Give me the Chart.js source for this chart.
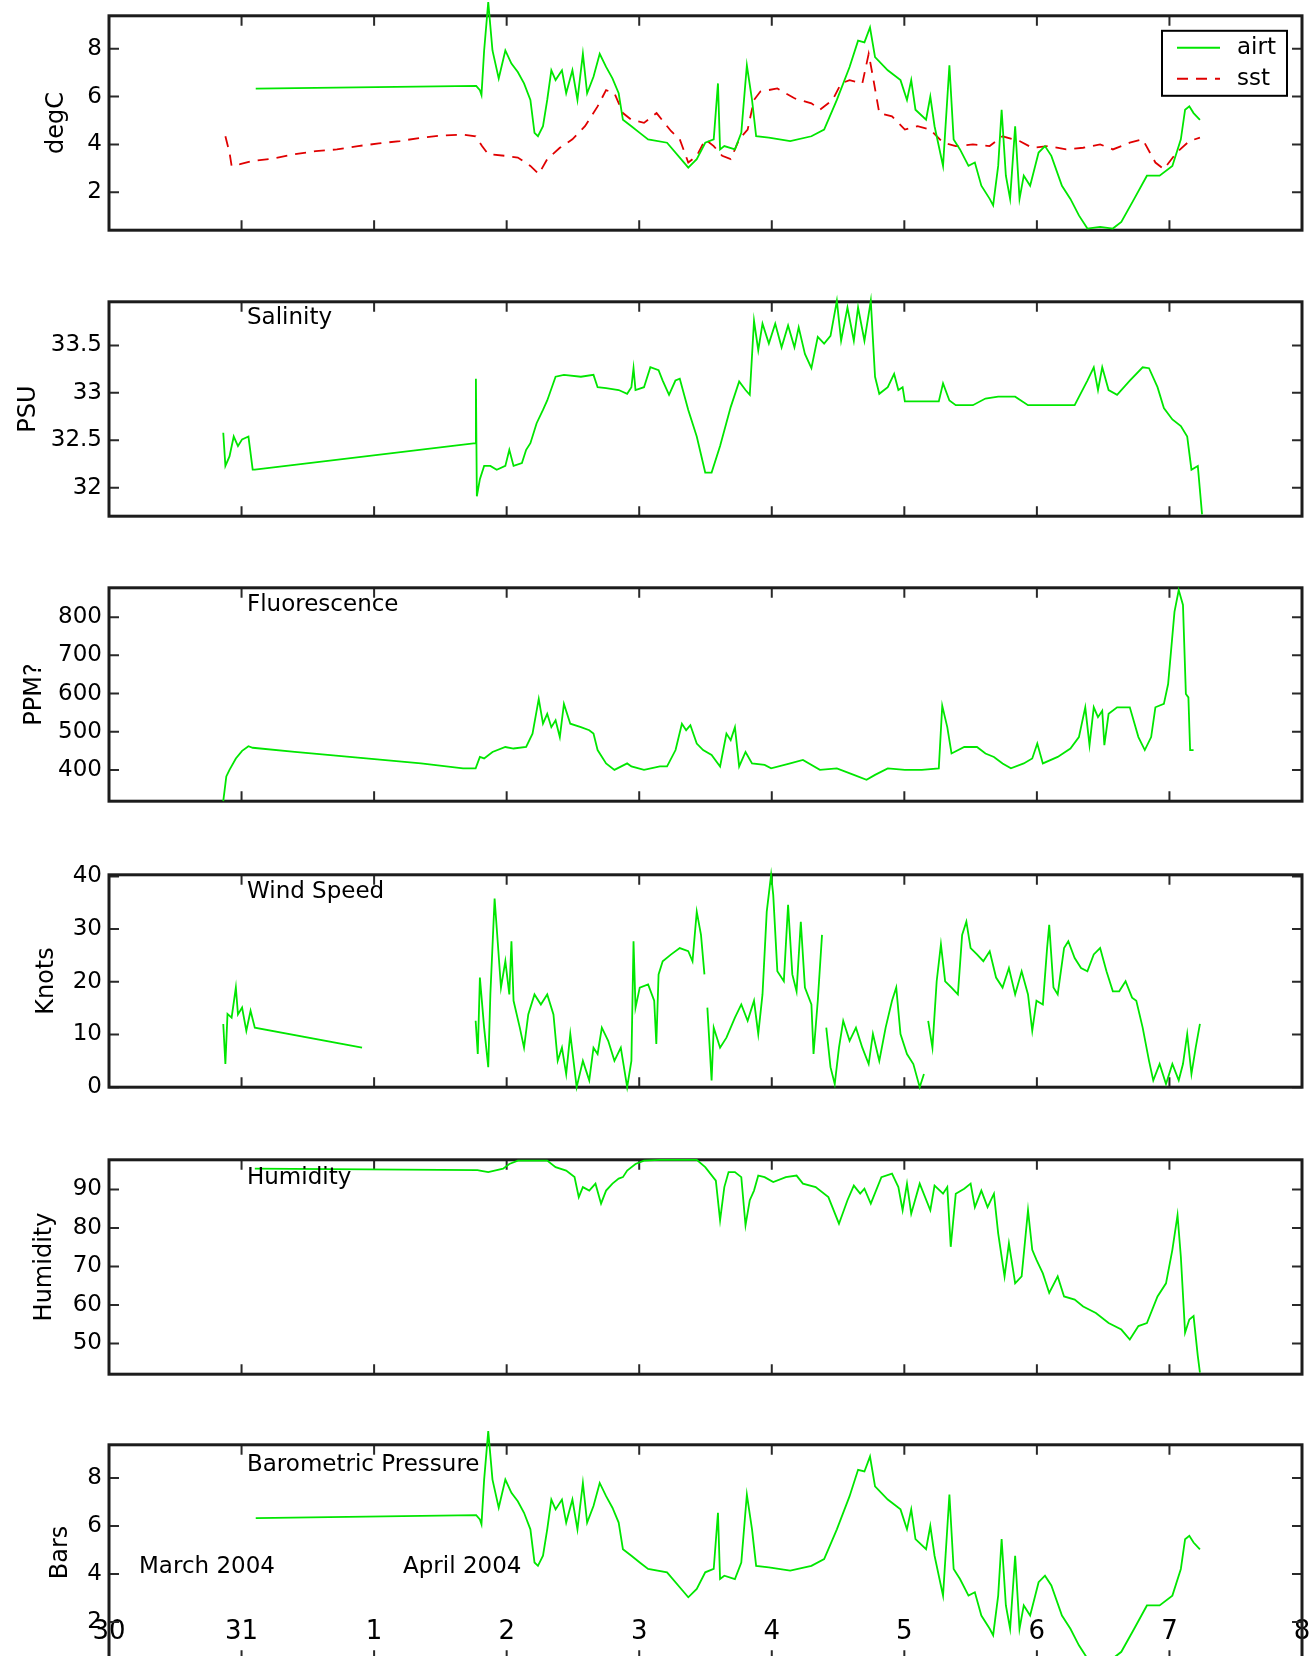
<!DOCTYPE html>
<html>
<head>
<meta charset="utf-8">
<title>Ship meteorological and surface data, 30 March – 8 April 2004</title>
<script src="https://cdn.jsdelivr.net/npm/chart.js@4.4.1/dist/chart.umd.min.js"></script>
<style>
  html, body { margin: 0; padding: 0; background: #fff; width: 1316px; height: 1656px; overflow: hidden; }
  .panel { position: absolute; left: 0; width: 1316px; }
  .note { position: absolute; font-family: "DejaVu Sans", sans-serif; font-size: 23px; line-height: 1; color: #000; white-space: nowrap; }
</style>
</head>
<body>
<script>
// ---- time axis: days counted from 30 March 2004, 00:00 ----
const dayTicks  = [0, 1, 2, 3, 4, 5, 6, 7, 8, 9];
const dayLabels = ['30', '31', '1', '2', '3', '4', '5', '6', '7', '8'];
const monthLabels = ['March 2004', 'April 2004'];

// ---- air temperature (degC) ----
const airtDays = [1.107, 2.77, 2.798, 2.81, 2.83, 2.861, 2.893, 2.94, 2.99, 3.036, 3.084, 3.131, 3.179, 3.21, 3.236, 3.274, 3.306, 3.337, 3.369, 3.417, 3.449, 3.496, 3.534, 3.575, 3.607, 3.655, 3.702, 3.75, 3.798, 3.845, 3.877, 3.941, 4.004, 4.067, 4.21, 4.338, 4.37, 4.434, 4.498, 4.562, 4.594, 4.61, 4.642, 4.722, 4.77, 4.812, 4.851, 4.882, 4.978, 5.139, 5.299, 5.395, 5.491, 5.587, 5.651, 5.699, 5.741, 5.779, 5.875, 5.971, 6.02, 6.052, 6.084, 6.164, 6.196, 6.228, 6.292, 6.34, 6.372, 6.42, 6.484, 6.532, 6.581, 6.644, 6.67, 6.708, 6.734, 6.766, 6.798, 6.836, 6.869, 6.901, 6.949, 7.013, 7.061, 7.109, 7.189, 7.253, 7.317, 7.381, 7.477, 7.573, 7.637, 7.734, 7.83, 7.926, 8.022, 8.086, 8.118, 8.15, 8.182, 8.23];
const airtValues = [6.33, 6.45, 6.27, 6.07, 7.93, 9.95, 7.93, 6.76, 7.93, 7.38, 7.03, 6.55, 5.86, 4.48, 4.34, 4.76, 5.86, 7.10, 6.69, 7.10, 6.14, 7.10, 5.86, 7.79, 6.14, 6.83, 7.79, 7.24, 6.76, 6.14, 5.03, 4.76, 4.48, 4.21, 4.07, 3.24, 3.03, 3.38, 4.07, 4.21, 6.55, 3.79, 3.93, 3.79, 4.48, 7.31, 5.86, 4.34, 4.28, 4.14, 4.34, 4.62, 5.86, 7.24, 8.34, 8.27, 8.89, 7.65, 7.10, 6.69, 5.86, 6.69, 5.45, 5.03, 6.00, 4.76, 3.10, 7.31, 4.21, 3.79, 3.10, 3.24, 2.27, 1.72, 1.45, 3.10, 5.45, 2.69, 1.72, 4.76, 1.72, 2.69, 2.27, 3.66, 3.93, 3.52, 2.27, 1.72, 1.03, 0.48, 0.55, 0.48, 0.76, 1.72, 2.69, 2.69, 3.10, 4.21, 5.45, 5.59, 5.31, 5.03];

// ---- sea surface temperature (degC) ----
const sstDays = [0.878, 0.909, 0.925, 0.989, 1.084, 1.243, 1.401, 1.56, 1.719, 1.878, 2.036, 2.195, 2.354, 2.512, 2.671, 2.766, 2.814, 2.861, 2.99, 3.084, 3.179, 3.242, 3.306, 3.401, 3.496, 3.591, 3.686, 3.75, 3.813, 3.877, 3.941, 4.036, 4.131, 4.241, 4.306, 4.37, 4.434, 4.498, 4.562, 4.626, 4.69, 4.754, 4.818, 4.866, 4.914, 5.042, 5.171, 5.299, 5.363, 5.459, 5.523, 5.587, 5.683, 5.731, 5.763, 5.811, 5.907, 6.004, 6.1, 6.196, 6.292, 6.388, 6.517, 6.644, 6.741, 6.869, 6.965, 7.093, 7.221, 7.349, 7.477, 7.573, 7.701, 7.798, 7.894, 7.958, 8.054, 8.15, 8.23];
const sstValues = [4.34, 3.66, 3.10, 3.17, 3.31, 3.41, 3.59, 3.72, 3.79, 3.93, 4.04, 4.14, 4.28, 4.37, 4.41, 4.34, 3.93, 3.59, 3.52, 3.45, 3.10, 2.76, 3.38, 3.86, 4.21, 4.76, 5.59, 6.27, 6.14, 5.31, 5.03, 4.90, 5.31, 4.55, 4.21, 3.24, 3.52, 4.21, 3.93, 3.52, 3.38, 4.21, 4.62, 5.86, 6.21, 6.34, 5.93, 5.72, 5.45, 5.86, 6.55, 6.69, 6.55, 7.79, 6.83, 5.31, 5.17, 4.62, 4.76, 4.62, 4.07, 3.93, 4.00, 3.93, 4.34, 4.14, 3.86, 3.93, 3.79, 3.86, 4.00, 3.79, 4.07, 4.21, 3.24, 2.96, 3.66, 4.14, 4.28];

// ---- salinity (PSU) ----
const salinityDays = [0.862, 0.878, 0.909, 0.941, 0.973, 1.004, 1.052, 1.084, 1.1, 2.766, 2.768, 2.775, 2.798, 2.83, 2.877, 2.925, 2.99, 3.02, 3.052, 3.115, 3.147, 3.179, 3.226, 3.274, 3.306, 3.369, 3.432, 3.56, 3.655, 3.686, 3.75, 3.845, 3.909, 3.941, 3.957, 3.972, 4.036, 4.084, 4.146, 4.177, 4.225, 4.273, 4.306, 4.37, 4.434, 4.498, 4.546, 4.61, 4.69, 4.754, 4.802, 4.834, 4.866, 4.898, 4.93, 4.978, 5.026, 5.074, 5.123, 5.171, 5.203, 5.25, 5.299, 5.347, 5.395, 5.443, 5.491, 5.523, 5.571, 5.619, 5.651, 5.699, 5.747, 5.779, 5.811, 5.875, 5.923, 5.955, 5.987, 6.004, 6.26, 6.292, 6.34, 6.388, 6.517, 6.612, 6.708, 6.836, 6.933, 7.125, 7.285, 7.381, 7.429, 7.461, 7.493, 7.541, 7.605, 7.701, 7.798, 7.846, 7.91, 7.958, 8.022, 8.086, 8.134, 8.166, 8.214, 8.246];
const salinityValues = [32.58, 32.23, 32.33, 32.54, 32.44, 32.51, 32.54, 32.19, 32.19, 32.47, 33.15, 31.91, 32.09, 32.23, 32.23, 32.19, 32.23, 32.40, 32.23, 32.26, 32.40, 32.47, 32.68, 32.82, 32.92, 33.17, 33.19, 33.17, 33.19, 33.06, 33.05, 33.03, 32.99, 33.06, 33.26, 33.03, 33.06, 33.27, 33.24, 33.13, 32.98, 33.13, 33.15, 32.82, 32.54, 32.16, 32.16, 32.44, 32.85, 33.12, 33.03, 32.98, 33.76, 33.45, 33.73, 33.52, 33.73, 33.48, 33.71, 33.48, 33.69, 33.41, 33.26, 33.59, 33.52, 33.60, 33.97, 33.55, 33.90, 33.55, 33.90, 33.55, 33.97, 33.17, 32.99, 33.06, 33.20, 33.03, 33.06, 32.91, 32.91, 33.10, 32.92, 32.87, 32.87, 32.94, 32.96, 32.96, 32.87, 32.87, 32.87, 33.13, 33.27, 33.03, 33.27, 33.03, 32.98, 33.13, 33.27, 33.26, 33.06, 32.84, 32.72, 32.65, 32.54, 32.19, 32.23, 31.72];

// ---- fluorescence ----
const fluorDays = [0.862, 0.885, 0.909, 0.957, 1.004, 1.052, 1.084, 1.401, 2.354, 2.671, 2.766, 2.798, 2.83, 2.893, 2.99, 3.052, 3.147, 3.195, 3.242, 3.274, 3.306, 3.337, 3.369, 3.401, 3.432, 3.48, 3.56, 3.623, 3.655, 3.686, 3.75, 3.813, 3.909, 3.941, 4.036, 4.156, 4.21, 4.274, 4.322, 4.354, 4.386, 4.434, 4.482, 4.546, 4.61, 4.658, 4.69, 4.722, 4.754, 4.802, 4.851, 4.946, 4.995, 5.139, 5.235, 5.363, 5.491, 5.619, 5.715, 5.779, 5.875, 6.004, 6.132, 6.26, 6.286, 6.324, 6.356, 6.452, 6.548, 6.612, 6.676, 6.741, 6.804, 6.901, 6.965, 7.003, 7.045, 7.157, 7.253, 7.317, 7.365, 7.397, 7.429, 7.461, 7.493, 7.509, 7.541, 7.605, 7.701, 7.766, 7.814, 7.862, 7.894, 7.958, 7.99, 8.038, 8.07, 8.102, 8.124, 8.143, 8.156, 8.182];
const fluorValues = [318, 383, 400, 430, 450, 462, 458, 447, 417, 404, 404, 434, 430, 447, 460, 456, 460, 495, 586, 521, 547, 512, 530, 486, 573, 521, 512, 504, 495, 452, 417, 400, 417, 409, 400, 409, 409, 452, 521, 504, 517, 469, 452, 439, 409, 495, 478, 512, 409, 447, 417, 413, 404, 417, 426, 400, 404, 387, 374, 387, 404, 400, 400, 404, 568, 512, 443, 460, 460, 443, 434, 417, 404, 417, 430, 469, 417, 434, 456, 486, 564, 465, 564, 538, 555, 465, 547, 564, 564, 486, 452, 486, 564, 573, 625, 814, 871, 832, 599, 590, 452, 452];

// ---- wind speed (knots); null marks a gap in the record ----
const windDays = [0.862, 0.878, 0.894, 0.925, 0.957, 0.973, 1.004, 1.036, 1.068, 1.1, 1.909, 2.3, 2.766, 2.782, 2.798, 2.83, 2.861, 2.877, 2.909, 2.925, 2.957, 2.99, 3.02, 3.036, 3.052, 3.099, 3.131, 3.163, 3.21, 3.258, 3.306, 3.353, 3.385, 3.417, 3.449, 3.48, 3.528, 3.575, 3.623, 3.655, 3.686, 3.718, 3.766, 3.813, 3.861, 3.909, 3.941, 3.957, 3.972, 4.004, 4.067, 4.113, 4.129, 4.146, 4.177, 4.241, 4.306, 4.37, 4.402, 4.434, 4.466, 4.492, 4.503, 4.514, 4.546, 4.562, 4.61, 4.658, 4.722, 4.77, 4.818, 4.866, 4.898, 4.93, 4.962, 4.995, 5.011, 5.042, 5.091, 5.123, 5.155, 5.187, 5.219, 5.25, 5.299, 5.315, 5.347, 5.379, 5.395, 5.411, 5.443, 5.475, 5.507, 5.539, 5.587, 5.635, 5.683, 5.731, 5.763, 5.811, 5.859, 5.907, 5.939, 5.971, 6.02, 6.068, 6.116, 6.148, 6.164, 6.18, 6.212, 6.244, 6.276, 6.308, 6.356, 6.404, 6.436, 6.468, 6.5, 6.548, 6.596, 6.644, 6.692, 6.741, 6.789, 6.836, 6.885, 6.933, 6.965, 6.997, 7.045, 7.077, 7.093, 7.125, 7.157, 7.205, 7.237, 7.285, 7.333, 7.381, 7.429, 7.477, 7.525, 7.573, 7.621, 7.669, 7.718, 7.75, 7.798, 7.846, 7.878, 7.926, 7.974, 8.022, 8.07, 8.102, 8.134, 8.166, 8.198, 8.23];
const windValues = [12.0, 4.4, 13.9, 13.2, 18.9, 13.8, 15.1, 10.7, 14.5, 11.3, 7.5, null, 12.6, 6.3, 20.8, 11.3, 3.8, 17.6, 35.8, 30.2, 18.9, 23.9, 17.6, 27.7, 16.4, 11.3, 7.5, 13.8, 17.6, 15.7, 17.6, 13.8, 5.0, 7.5, 2.5, 10.1, 0, 5.0, 1.3, 7.5, 6.3, 11.3, 8.8, 5.0, 7.5, 0, 5.0, 27.7, 15.1, 18.9, 19.5, 16.4, 8.2, 21.4, 23.9, 25.2, 26.4, 25.8, 23.9, 33.3, 28.9, 21.4, null, 15.1, 1.3, 11.3, 7.5, 9.4, 13.2, 15.7, 12.6, 16.4, 10.1, 17.6, 33.3, 40.3, 36.5, 22.0, 20.1, 34.6, 21.4, 18.2, 31.4, 18.9, 15.7, 6.3, 16.4, 28.9, null, 11.3, 3.8, 0.6, 7.5, 12.6, 8.8, 11.3, 7.5, 4.4, 10.1, 5.0, 11.3, 16.4, 18.9, 10.1, 6.3, 4.4, 0, 2.5, null, 12.6, 7.5, 20.1, 27.1, 20.1, 18.9, 17.6, 28.9, 31.4, 26.4, 25.2, 23.9, 25.8, 20.8, 18.9, 22.6, 17.6, 22.0, 17.6, 10.7, 16.4, 15.7, 26.4, 30.8, 18.9, 17.6, 26.4, 27.7, 24.5, 22.6, 22.0, 25.2, 26.4, 22.0, 18.2, 18.2, 20.1, 17.0, 16.4, 11.3, 5.0, 1.3, 4.4, 0.6, 4.4, 1.3, 4.4, 10.1, 2.5, 7.5, 12.0];

// ---- relative humidity ----
const humidityDays = [1.1, 2.78, 2.798, 2.861, 2.973, 3.02, 3.084, 3.306, 3.369, 3.449, 3.512, 3.544, 3.575, 3.623, 3.67, 3.712, 3.75, 3.798, 3.845, 3.877, 3.909, 3.972, 4.036, 4.156, 4.434, 4.498, 4.578, 4.61, 4.642, 4.674, 4.722, 4.77, 4.802, 4.834, 4.866, 4.898, 4.946, 5.011, 5.106, 5.187, 5.235, 5.331, 5.427, 5.507, 5.571, 5.619, 5.667, 5.699, 5.747, 5.827, 5.907, 5.955, 5.987, 6.02, 6.052, 6.116, 6.196, 6.228, 6.292, 6.324, 6.35, 6.388, 6.452, 6.5, 6.532, 6.581, 6.628, 6.676, 6.708, 6.756, 6.789, 6.836, 6.885, 6.933, 6.965, 6.997, 7.045, 7.093, 7.157, 7.205, 7.285, 7.349, 7.445, 7.541, 7.637, 7.701, 7.766, 7.83, 7.91, 7.974, 8.022, 8.061, 8.086, 8.118, 8.15, 8.182, 8.214, 8.23];
const humidityValues = [95.4, 95.0, 94.9, 94.5, 95.4, 96.6, 97.5, 97.5, 95.8, 94.9, 93.2, 88.0, 90.6, 89.7, 91.5, 86.3, 89.7, 91.5, 92.8, 93.2, 94.9, 96.6, 97.5, 97.7, 97.7, 95.8, 92.3, 82.0, 90.6, 94.5, 94.5, 93.2, 80.7, 87.2, 89.7, 93.6, 93.2, 91.9, 93.2, 93.6, 91.5, 90.6, 88.0, 81.1, 87.2, 91.0, 88.9, 90.2, 86.3, 93.2, 94.1, 90.6, 84.6, 91.5, 83.7, 91.5, 84.6, 91.0, 88.9, 90.6, 75.1, 88.9, 90.2, 91.5, 85.4, 89.7, 85.4, 88.9, 78.6, 67.4, 76.0, 65.6, 67.4, 84.6, 74.3, 71.7, 68.2, 63.1, 67.4, 62.2, 61.4, 59.6, 57.9, 55.3, 53.6, 51.0, 54.5, 55.3, 62.2, 65.6, 74.3, 83.3, 72.5, 52.8, 56.2, 57.1, 46.7, 42.4];

// ---- y tick values per panel ----
const tempTicks     = [2, 4, 6, 8];
const salinityTicks = [32, 32.5, 33, 33.5];
const fluorTicks    = [400, 500, 600, 700, 800];
const windTicks     = [0, 10, 20, 30, 40];
const humidityTicks = [50, 60, 70, 80, 90];

// ---- drawing ----
const FONT = '"DejaVu Sans", sans-serif';
const GREEN = '#00e600';
const RED = '#e00000';
const MARGIN = 20;

// Box round each plot plus inward tick marks on all four sides
const frameTicks = {
  id: 'frameTicks',
  beforeDatasetsDraw(chart) {
    const { ctx, chartArea: a, scales } = chart;
    const tl = 10;
    ctx.save();
    ctx.strokeStyle = '#2a2a2a';
    ctx.lineWidth = 2;
    ctx.beginPath();
    scales.x.ticks.forEach(t => {
      const px = scales.x.getPixelForValue(t.value);
      ctx.moveTo(px, a.top); ctx.lineTo(px, a.top + tl);
      ctx.moveTo(px, a.bottom); ctx.lineTo(px, a.bottom - tl);
    });
    scales.y.ticks.forEach(t => {
      const py = scales.y.getPixelForValue(t.value);
      ctx.moveTo(a.left, py); ctx.lineTo(a.left + tl, py);
      ctx.moveTo(a.right, py); ctx.lineTo(a.right - tl, py);
    });
    ctx.stroke();
    ctx.lineWidth = 3;
    ctx.strokeStyle = '#1c1c1c';
    ctx.strokeRect(a.left, a.top, a.right - a.left, a.bottom - a.top);
    ctx.restore();
  }
};

// Boxed legend in the upper right of the plot
const boxLegend = {
  id: 'boxLegend',
  afterDatasetsDraw(chart) {
    const { ctx, chartArea: a } = chart;
    const w = 125, h = 65;
    const x = a.right - 140, y = a.top + 15;
    ctx.save();
    ctx.fillStyle = '#fff';
    ctx.fillRect(x, y, w, h);
    ctx.lineWidth = 2;
    ctx.strokeStyle = '#000';
    ctx.strokeRect(x, y, w, h);
    chart.data.datasets.forEach((ds, i) => {
      const cy = y + 17 + i * 31;
      ctx.strokeStyle = ds.borderColor;
      ctx.lineWidth = 2;
      ctx.setLineDash(ds.borderDash || []);
      ctx.beginPath(); ctx.moveTo(x + 15, cy); ctx.lineTo(x + 58, cy); ctx.stroke();
      ctx.setLineDash([]);
      ctx.fillStyle = '#000';
      ctx.font = '23px ' + FONT;
      ctx.textBaseline = 'middle';
      ctx.fillText(ds.label, x + 75, cy);
    });
    ctx.restore();
  }
};

function series(label, days, values, color, dash) {
  return {
    label,
    data: days.map((d, i) => ({ x: d, y: values[i] })),
    borderColor: color,
    borderWidth: 1.8,
    borderDash: dash || [],
    pointRadius: 0,
    tension: 0,
    spanGaps: false,
    clip: false,
    fill: false
  };
}

function panel(p) {
  const h = p.bottom - p.top + 2 * MARGIN;
  const wrap = document.createElement('div');
  wrap.className = 'panel';
  wrap.style.top = (p.top - MARGIN) + 'px';
  wrap.style.height = h + 'px';
  const cv = document.createElement('canvas');
  cv.width = 1316; cv.height = h;
  wrap.appendChild(cv);
  document.body.appendChild(wrap);

  const xTicks = p.dayAxis
    ? { display: true, mirror: true, padding: 12, autoSkip: false, maxRotation: 0, minRotation: 0,
        color: '#000', font: { family: FONT, size: 26 }, callback: (v, i) => dayLabels[i] }
    : { display: false };

  new Chart(cv, {
    type: 'line',
    data: { datasets: p.datasets },
    options: {
      responsive: false,
      animation: false,
      events: [],
      layout: { padding: { top: MARGIN, bottom: MARGIN, left: 0, right: 14 } },
      plugins: { legend: { display: false }, tooltip: { enabled: false } },
      scales: {
        x: {
          type: 'linear', min: 0, max: 9,
          afterBuildTicks: s => { s.ticks = dayTicks.map(v => ({ value: v })); },
          afterFit: s => { s.height = 0; s.paddingLeft = 0; s.paddingRight = 0; },
          grid: { display: false, drawTicks: false },
          border: { display: false },
          ticks: xTicks
        },
        y: {
          type: 'linear', min: p.min, max: p.max,
          afterBuildTicks: s => { s.ticks = p.ticks.map(v => ({ value: v })); },
          afterFit: s => { s.width = 109; },
          grid: { display: false, drawTicks: false },
          border: { display: false },
          ticks: { color: '#000', padding: 7, font: { family: FONT, size: 23 }, callback: v => String(v) },
          title: { display: true, text: p.unit, color: '#000', font: { family: FONT, size: 24 },
                   padding: { top: p.titlePad, bottom: 0 } }
        }
      }
    },
    plugins: p.legend ? [frameTicks, boxLegend] : [frameTicks]
  });
}

function note(text, left, top) {
  const d = document.createElement('div');
  d.className = 'note';
  d.textContent = text;
  d.style.left = left + 'px';
  d.style.top = top + 'px';
  document.body.appendChild(d);
}

panel({ top: 15, bottom: 231, min: 0.41, max: 9.38, ticks: tempTicks, unit: 'degC', titlePad: 42, legend: true,
        datasets: [series('airt', airtDays, airtValues, GREEN), series('sst', sstDays, sstValues, RED, [11, 8])] });
panel({ top: 301, bottom: 517, min: 31.70, max: 33.96, ticks: salinityTicks, unit: 'PSU', titlePad: 14,
        datasets: [series('Salinity', salinityDays, salinityValues, GREEN)] });
panel({ top: 587, bottom: 802, min: 318, max: 877, ticks: fluorTicks, unit: 'PPM?', titlePad: 20,
        datasets: [series('Fluorescence', fluorDays, fluorValues, GREEN)] });
panel({ top: 874, bottom: 1088, min: 0, max: 40.3, ticks: windTicks, unit: 'Knots', titlePad: 32,
        datasets: [series('Wind Speed', windDays, windValues, GREEN)] });
panel({ top: 1159, bottom: 1375, min: 42, max: 97.7, ticks: humidityTicks, unit: 'Humidity', titlePad: 30,
        datasets: [series('Humidity', humidityDays, humidityValues, GREEN)] });
panel({ top: 1444, bottom: 1661, min: 0.41, max: 9.38, ticks: tempTicks, unit: 'Bars', titlePad: 46, dayAxis: true,
        datasets: [series('Barometric Pressure', airtDays, airtValues, GREEN)] });

note('Salinity', 247, 305);
note('Fluorescence', 247, 592);
note('Wind Speed', 247, 879);
note('Humidity', 247, 1165);
note('Barometric Pressure', 247, 1452);
note(monthLabels[0], 139, 1554);
note(monthLabels[1], 403, 1554);
</script>
</body>
</html>
